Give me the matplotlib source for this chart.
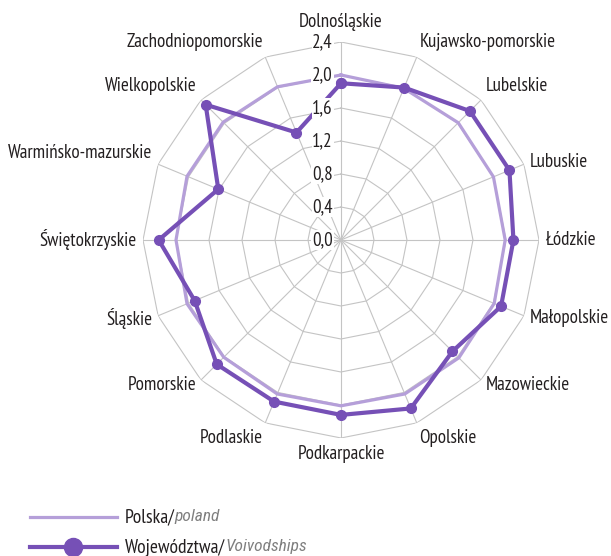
import numpy as np
import matplotlib
matplotlib.use("Agg")
import matplotlib.pyplot as plt
from matplotlib.lines import Line2D
from matplotlib.transforms import offset_copy

plt.rcParams['font.family'] = ['PT Sans Narrow', 'DejaVu Sans']
ITALIC_FAMILY = ['Roboto Condensed', 'Fira Sans Condensed', 'DejaVu Sans']

categories = ["Dolnośląskie", "Kujawsko-pomorskie", "Lubelskie", "Lubuskie", "Łódzkie",
              "Małopolskie", "Mazowieckie", "Opolskie", "Podkarpackie", "Podlaskie",
              "Pomorskie", "Śląskie", "Świętokrzyskie", "Warmińsko-mazurskie",
              "Wielkopolskie", "Zachodniopomorskie"]
polska = [2.0, 1.99, 2.01, 2.0, 1.99, 2.01, 2.02, 2.02, 2.01, 2.02, 2.01, 2.02, 2.0, 2.02, 2.02, 2.01]
wojewodztwa = [1.90, 2.00, 2.21, 2.21, 2.09, 2.10, 1.91, 2.21, 2.12, 2.12, 2.13, 1.92, 2.21, 1.61, 2.32, 1.41]
r_ticks = [0.0, 0.4, 0.8, 1.2, 1.6, 2.0, 2.4]
r_tick_labels = ["0,0", "0,4", "0,8", "1,2", "1,6", "2,0", "2,4"]
label_va = ["bottom", "bottom", "bottom", "center", "center", "center", "center", "top",
            "top", "top", "center", "center", "center", "bottom", "bottom", "bottom"]

LIGHT = "#b59fd9"
DARK = "#7650b6"
GRID = "#c4c4c4"
TEXT = "#231f20"
FS = 13.7

W, H = 611, 556
fig = plt.figure(figsize=(W / 100, H / 100), dpi=100)
cx, cy, R = 341, 240, 198
ax = fig.add_axes([(cx - R) / W, (H - cy - R) / H, 2 * R / W, 2 * R / H], projection="polar")
ax.set_theta_zero_location("N")
ax.set_theta_direction(-1)
ax.set_ylim(0, r_ticks[-1])
ax.grid(False)
ax.set_xticks([])
ax.set_yticks([])
ax.spines["polar"].set_visible(False)
ax.patch.set_alpha(0)

n = len(categories)
theta = np.arange(n) * 2 * np.pi / n
theta_c = np.append(theta, theta[0])

# polygonal grid
for r in r_ticks[1:]:
    ax.plot(theta_c, [r] * (n + 1), color=GRID, lw=0.8, zorder=1)
for t in theta:
    ax.plot([t, t], [0, r_ticks[-1]], color=GRID, lw=0.8, zorder=1)

# series
ax.plot(theta_c, polska + polska[:1], color=LIGHT, lw=2.3, zorder=3, solid_joinstyle="miter")
ax.plot(theta_c, wojewodztwa + wojewodztwa[:1], color=DARK, lw=3.0, marker="o",
        markersize=7, zorder=4, solid_joinstyle="miter")

# radial tick labels with white background
off = offset_copy(ax.transData, fig=fig, x=-8, y=0, units="dots")
for r, lab in zip(r_ticks, r_tick_labels):
    ax.text(0, r, lab, transform=off, ha="right", va="center", fontsize=FS, color=TEXT,
            zorder=6, bbox=dict(facecolor="white", edgecolor="none", pad=0.5))

# category labels
for t, lab, va in zip(theta, categories, label_va):
    s = np.sin(t)
    if s > 0.1:
        ha = "left"
    elif s < -0.1:
        ha = "right"
    else:
        ha = "center"
    tr = ax.transData
    if ha == "center" and va == "bottom":
        tr = offset_copy(ax.transData, fig=fig, x=0, y=4, units="dots")
    ax.text(t, 2.48, lab, ha=ha, va=va, fontsize=FS, color=TEXT, zorder=6, transform=tr)

# legend (manual)
fig.add_artist(Line2D([30 / W, 117 / W], [1 - 517 / H, 1 - 517 / H], color=LIGHT, lw=2.3))
fig.add_artist(Line2D([30 / W, 117 / W], [1 - 547 / H, 1 - 547 / H], color=DARK, lw=3.0))
fig.add_artist(Line2D([73 / W], [1 - 547 / H], color=DARK, marker="o", markersize=13))

fig.canvas.draw()
renderer = fig.canvas.get_renderer()
for y, a, b in [(517, "Polska/", "poland"), (547, "Województwa/", "Voivodships")]:
    t1 = fig.text(125 / W, 1 - y / H, a, ha="left", va="center", fontsize=14, color=TEXT)
    bb = t1.get_window_extent(renderer=renderer)
    fig.text(bb.x1 / W, 1 - y / H, b, ha="left", va="center", fontsize=12.5,
             color="#7f7f7f", style="italic", family=ITALIC_FAMILY)

fig.savefig("out.png", dpi=100)
